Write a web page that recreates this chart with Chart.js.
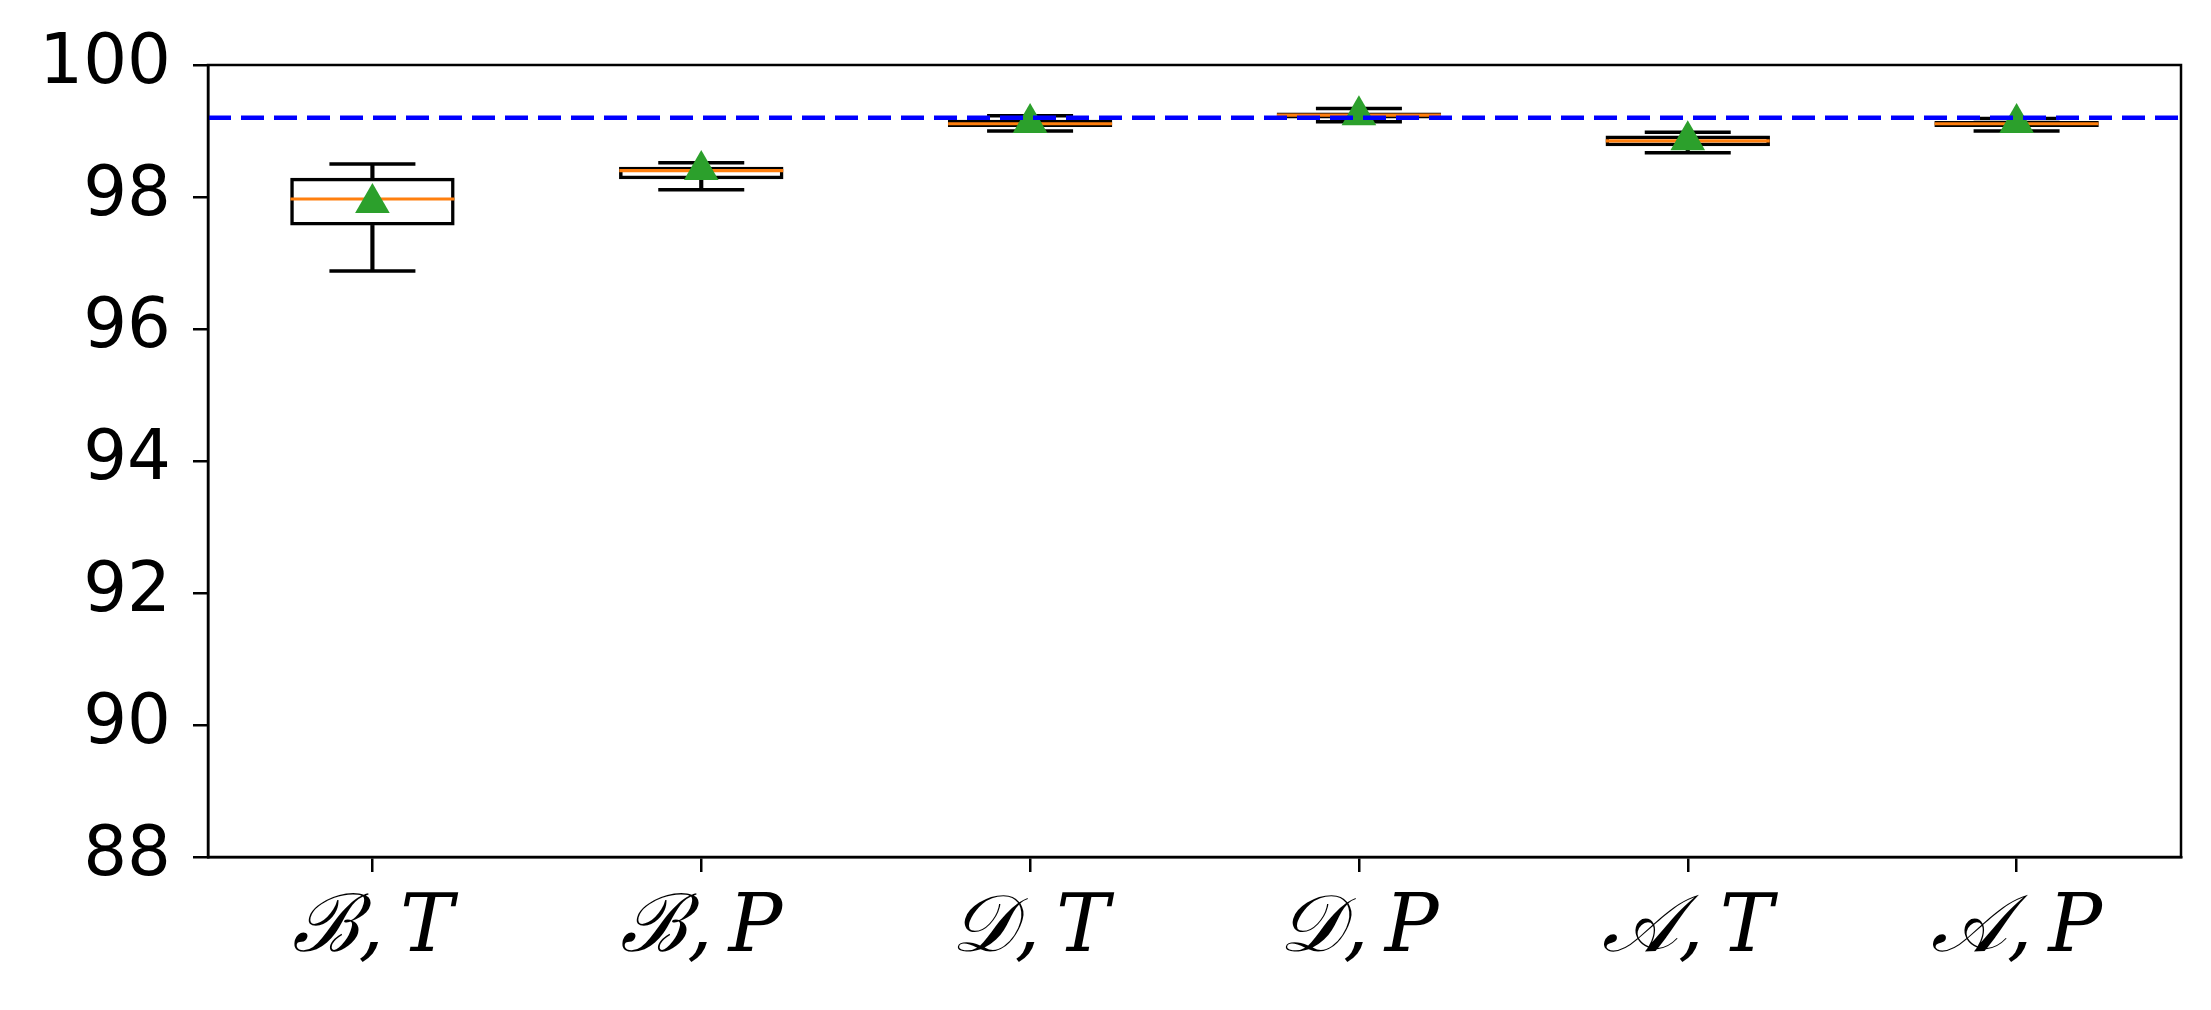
<!DOCTYPE html>
<html>
<head>
<meta charset="utf-8">
<script src="https://cdn.jsdelivr.net/npm/chart.js@4.4.1/dist/chart.umd.min.js"></script>
<style>
	html, body { margin: 0; padding: 0; background: #ffffff; }
</style>
</head>
<body>
<canvas id="boxChart" width="2211" height="1010"></canvas>
<script>
// data
var categories = ["\u212C,\u2009T", "\u212C,\u2009P", "\uD835\uDC9F,\u2009T", "\uD835\uDC9F,\u2009P", "\uD835\uDC9C,\u2009T", "\uD835\uDC9C,\u2009P"];
var whiskerLow = [96.88, 98.11, 99.0, 99.14, 98.67, 99.0];
var q1 = [97.57, 98.27, 99.06, 99.19, 98.77, 99.06];
var medians = [97.97, 98.4, 99.11, 99.24, 98.85, 99.11];
var q3 = [98.29, 98.46, 99.17, 99.28, 98.93, 99.15];
var whiskerHigh = [98.5, 98.52, 99.23, 99.34, 98.98, 99.19];
var means = [97.91, 98.41, 99.12, 99.24, 98.86, 99.12];
var baseline = 99.2;
var yMin = 88;
var yMax = 100;
var yStep = 2;

function pairs(a, b) {
	return a.map((v, i) => [v, b[i]]);
}

// frame + reference line
var framePlugin = {
	id: "framePlugin",
	afterDatasetsDraw(chart) {
		const ctx = chart.ctx;
		const area = chart.chartArea;
		const y = chart.scales.y.getPixelForValue(baseline);
		ctx.save();
		ctx.strokeStyle = "#0000ff";
		ctx.lineWidth = 4.5;
		ctx.setLineDash([23, 10]);
		ctx.beginPath();
		ctx.moveTo(area.left, y);
		ctx.lineTo(area.right, y);
		ctx.stroke();
		ctx.setLineDash([]);
		ctx.strokeStyle = "#000000";
		ctx.lineWidth = 2.5;
		ctx.strokeRect(area.left, area.top, area.right - area.left, area.bottom - area.top);
		ctx.restore();
	},
};

const boxChartCtx = document.getElementById("boxChart");

var boxChart = new Chart(boxChartCtx, {
	data: {
		labels: categories,
		datasets: [
			{
				type: "bar",
				label: "box",
				data: pairs(q1, q3),
				backgroundColor: "rgba(255,255,255,0)",
				borderColor: "#000000",
				borderWidth: 3.5,
				borderSkipped: false,
				grouped: false,
				barPercentage: 0.5,
				categoryPercentage: 1.0,
				order: 5,
			},
			{
				type: "bar",
				label: "upper whisker",
				data: pairs(q3, whiskerHigh),
				backgroundColor: "#000000",
				borderWidth: 0,
				grouped: false,
				barThickness: 3.5,
				order: 4,
			},
			{
				type: "bar",
				label: "lower whisker",
				data: pairs(whiskerLow, q1),
				backgroundColor: "#000000",
				borderWidth: 0,
				grouped: false,
				barThickness: 3.5,
				order: 4,
			},
			{
				type: "line",
				label: "caps high",
				data: whiskerHigh,
				showLine: false,
				pointStyle: "line",
				pointRadius: 43,
				pointBorderWidth: 3.5,
				pointBorderColor: "#000000",
				order: 3,
			},
			{
				type: "line",
				label: "caps low",
				data: whiskerLow,
				showLine: false,
				pointStyle: "line",
				pointRadius: 43,
				pointBorderWidth: 3.5,
				pointBorderColor: "#000000",
				order: 3,
			},
			{
				type: "line",
				label: "median",
				data: medians,
				showLine: false,
				pointStyle: "line",
				pointRadius: 82,
				pointBorderWidth: 3.2,
				pointBorderColor: "#ff7f0e",
				order: 2,
			},
			{
				type: "line",
				label: "mean",
				data: means,
				showLine: false,
				pointStyle: "triangle",
				pointRadius: 20,
				pointBackgroundColor: "#2ca02c",
				pointBorderColor: "#2ca02c",
				pointBorderWidth: 0,
				order: 1,
			},
		],
	},
	options: {
		responsive: false,
		animation: false,
		layout: {
			autoPadding: false,
			padding: { left: 0, top: 65, right: 30, bottom: 0 },
		},
		plugins: {
			legend: { display: false },
			tooltip: { enabled: false },
		},
		scales: {
			x: {
				type: "category",
				offset: true,
				grid: {
					display: true,
					offset: false,
					drawOnChartArea: false,
					drawTicks: true,
					tickLength: 15,
					color: "#000000",
					lineWidth: 2.5,
				},
				border: { display: true, color: "#000000", width: 2.5 },
				ticks: {
					color: "#000000",
					padding: 10,
					maxRotation: 0,
					font: { family: "'DejaVu Serif', serif", size: 80, style: "italic" },
				},
				afterFit: (s) => {
					s.height = 153;
				},
			},
			y: {
				min: yMin,
				max: yMax,
				grid: {
					display: true,
					drawOnChartArea: false,
					drawTicks: true,
					tickLength: 15,
					color: "#000000",
					lineWidth: 2.5,
				},
				border: { display: true, color: "#000000", width: 2.5 },
				ticks: {
					stepSize: yStep,
					color: "#000000",
					padding: 22,
					font: { family: "'DejaVu Sans', sans-serif", size: 69 },
				},
				afterFit: (s) => {
					s.width = 208;
				},
			},
		},
	},
	plugins: [framePlugin],
});
</script>
</body>
</html>
